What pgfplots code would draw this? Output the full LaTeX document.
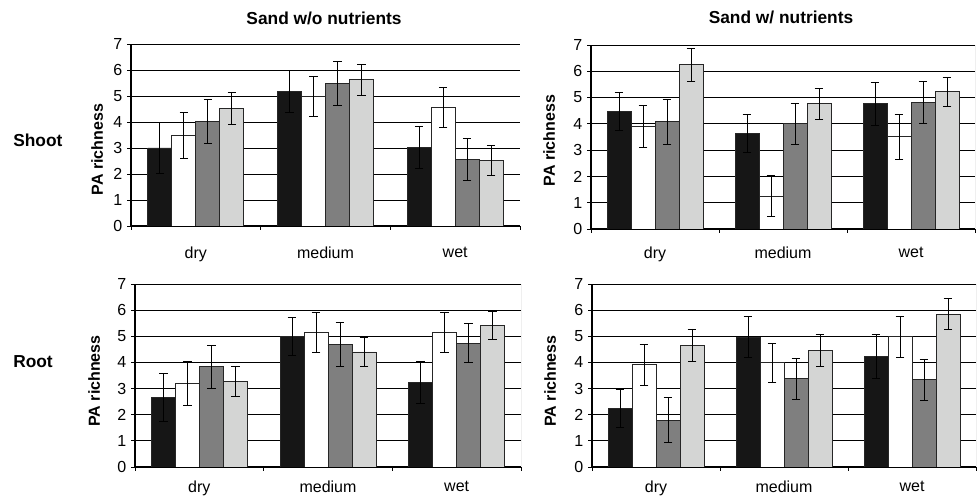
\documentclass[border=0pt]{standalone}
\usepackage{pgfplots}
\pgfplotsset{compat=1.18}
\usepackage{fontspec}
\setmainfont{Liberation Sans}
\definecolor{cblack}{HTML}{161616}
\definecolor{cgrey}{HTML}{7F7F7F}
\definecolor{clight}{HTML}{D4D5D4}

\pgfplotsset{
  panel/.style={
    scale only axis, anchor=south west,
    ybar=0pt, bar width=18pt,
    ymin=0, ymax=7, ytick={0,...,7},
    xmin=0.5, xmax=3.5,
    xtick={0.5,1.5,2.5,3.5}, xticklabels={dry,medium,wet},
    x tick label as interval,
    axis x line*=bottom, axis y line*=left,
    axis line style={-},
    x axis line style={line width=1.3pt},
    y axis line style={line width=0.9pt},
    ymajorgrids, grid style={black, line width=0.7pt},
    tick align=outside, major tick length=3pt,
    tick style={black, line width=0.6pt},
    /pgf/number format/assume math mode=true,
    yticklabel style={font=\fontsize{12}{14}\selectfont},
    xticklabel style={font=\fontsize{12}{14}\selectfont},
    ylabel={PA richness},
    ylabel style={font=\bfseries\fontsize{12}{14}\selectfont, anchor=center},
    error bars/y dir=both, error bars/y explicit,
    error bars/error bar style={black, line width=0.6pt},
    error bars/error mark options={rotate=90, black, mark size=3.2pt, line width=0.6pt},
  },
  bk/.style={fill=cblack, draw=black!85, line width=0.6pt},
  wh/.style={fill=white, draw=black!85, line width=0.6pt},
  gr/.style={fill=cgrey, draw=black!85, line width=0.6pt},
  lg/.style={fill=clight, draw=black!85, line width=0.6pt},
}

\begin{document}
\begin{tikzpicture}
\useasboundingbox (0,0) rectangle (734.25pt,374.25pt);

% shoot, sand w/o nutrients
\begin{axis}[panel, at={(98.25pt,204.75pt)}, width=291.75pt, height=136.5pt,
  xticklabel style={yshift=-9pt},
  ylabel style={at={(axis description cs:-0.087,0.42)}}]
  \addplot[bk] coordinates {(1,3.00) +- (0,0.97) (2,5.18) +- (0,0.80) (3,3.02) +- (0,0.80)};
  \addplot[wh] coordinates {(1,3.48) +- (0,0.87) (2,4.98) +- (0,0.78) (3,4.56) +- (0,0.78)};
  \addplot[gr] coordinates {(1,4.03) +- (0,0.84) (2,5.48) +- (0,0.86) (3,2.56) +- (0,0.80)};
  \addplot[lg] coordinates {(1,4.53) +- (0,0.61) (2,5.63) +- (0,0.60) (3,2.51) +- (0,0.58)};
  \draw[black!50, line width=0.6pt] (rel axis cs:1,0) -- (rel axis cs:1,1);
\end{axis}

% shoot, sand w/ nutrients
\begin{axis}[panel, at={(443.25pt,202.5pt)}, width=288pt, height=138pt,
  xticklabel style={yshift=-7pt},
  ylabel style={at={(axis description cs:-0.109,0.48)}}]
  \addplot[bk] coordinates {(1,4.47) +- (0,0.72) (2,3.63) +- (0,0.72) (3,4.77) +- (0,0.82)};
  \addplot[wh] coordinates {(1,3.91) +- (0,0.80) (2,1.25) +- (0,0.78) (3,3.51) +- (0,0.85)};
  \addplot[gr] coordinates {(1,4.08) +- (0,0.86) (2,4.00) +- (0,0.78) (3,4.80) +- (0,0.80)};
  \addplot[lg] coordinates {(1,6.25) +- (0,0.62) (2,4.76) +- (0,0.60) (3,5.22) +- (0,0.56)};
  \draw[black!50, line width=0.6pt] (rel axis cs:1,0) -- (rel axis cs:1,1);
\end{axis}

% root, sand w/o nutrients
\begin{axis}[panel, at={(101.25pt,24pt)}, width=289.5pt, height=137.25pt,
  xticklabel style={yshift=-4pt},
  ylabel style={at={(axis description cs:-0.106,0.47)}}]
  \addplot[bk] coordinates {(1,2.66) +- (0,0.93) (2,4.99) +- (0,0.72) (3,3.24) +- (0,0.81)};
  \addplot[wh] coordinates {(1,3.20) +- (0,0.85) (2,5.15) +- (0,0.75) (3,5.15) +- (0,0.75)};
  \addplot[gr] coordinates {(1,3.84) +- (0,0.82) (2,4.69) +- (0,0.84) (3,4.74) +- (0,0.75)};
  \addplot[lg] coordinates {(1,3.28) +- (0,0.57) (2,4.40) +- (0,0.57) (3,5.42) +- (0,0.55)};
  \draw[black!50, line width=0.6pt] (rel axis cs:1,0) -- (rel axis cs:1,1);
\end{axis}

% root, sand w/ nutrients
\begin{axis}[panel, at={(444pt,24pt)}, width=288pt, height=137.25pt,
  xticklabel style={yshift=-4pt},
  ylabel style={at={(axis description cs:-0.109,0.47)}}]
  \addplot[bk] coordinates {(1,2.24) +- (0,0.74) (2,4.97) +- (0,0.78) (3,4.23) +- (0,0.83)};
  \addplot[wh] coordinates {(1,3.91) +- (0,0.79) (2,3.99) +- (0,0.75) (3,4.98) +- (0,0.77)};
  \addplot[gr] coordinates {(1,1.79) +- (0,0.86) (2,3.37) +- (0,0.77) (3,3.34) +- (0,0.79)};
  \addplot[lg] coordinates {(1,4.66) +- (0,0.62) (2,4.46) +- (0,0.60) (3,5.85) +- (0,0.59)};
  \draw[black!50, line width=0.6pt] (rel axis cs:1,0) -- (rel axis cs:1,1);
\end{axis}

\node[font=\bfseries\fontsize{13}{15}\selectfont] at (243pt,360.75pt) {Sand w/o nutrients};
\node[font=\bfseries\fontsize{13}{15}\selectfont] at (585.75pt,361.5pt) {Sand w/ nutrients};
\node[font=\bfseries\fontsize{13}{15}\selectfont, anchor=west, inner sep=0pt] at (9.75pt,269.25pt) {Shoot};
\node[font=\bfseries\fontsize{13}{15}\selectfont, anchor=west, inner sep=0pt] at (9.75pt,102.75pt) {Root};
\end{tikzpicture}
\end{document}
